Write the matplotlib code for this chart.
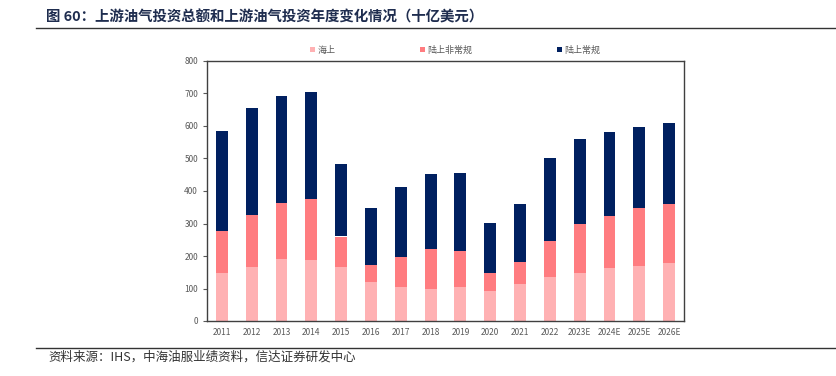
import numpy as np
import matplotlib.pyplot as plt
from matplotlib.lines import Line2D

plt.rcParams['font.family'] = ['Noto Sans CJK SC', 'DejaVu Sans']

# Data (十亿美元)
years = ['2011', '2012', '2013', '2014', '2015', '2016', '2017', '2018',
         '2019', '2020', '2021', '2022', '2023E', '2024E', '2025E', '2026E']
offshore = [149, 167, 192, 187, 165, 119, 106, 100, 104, 92, 114, 136, 149, 163, 170, 179]
onshore_unconv_top = [278, 326, 362, 376, 260, 172, 197, 221, 215, 149, 183, 245, 297, 324, 348, 361]
total = [585, 655, 691, 704, 484, 349, 413, 452, 454, 302, 359, 501, 560, 583, 597, 610]

offshore = np.array(offshore)
unconv = np.array(onshore_unconv_top) - offshore
conv = np.array(total) - np.array(onshore_unconv_top)

c_off = '#FFB1B3'
c_unconv = '#FF7C80'
c_conv = '#002060'

fig = plt.figure(figsize=(8.37, 3.76), dpi=100)
ax = fig.add_axes([207 / 837, 1 - 321 / 376, 477 / 837, 260 / 376])

x = np.arange(len(years))
w = 0.4
ax.bar(x, offshore, w, color=c_off, label='海上')
ax.bar(x, unconv, w, bottom=offshore, color=c_unconv, label='陆上非常规')
ax.bar(x, conv, w, bottom=offshore + unconv, color=c_conv, label='陆上常规')

ax.set_xlim(-0.5, len(years) - 0.5)
ax.set_ylim(0, 800)
ax.set_yticks(np.arange(0, 801, 100))
ax.set_xticks(x)
ax.set_xticklabels(years)
ax.tick_params(axis='both', labelsize=6, colors='#595959', length=3, width=0.8)
ax.tick_params(axis='x', length=0, pad=5)
for s in ax.spines.values():
    s.set_color('#404040')
    s.set_linewidth(1.0)

ax.legend(loc='lower center', bbox_to_anchor=(0.52, 1.0), ncol=3, frameon=False,
          fontsize=6.5, handlelength=0.6, handleheight=0.6, handletextpad=0.2,
          columnspacing=9.4, labelcolor='#595959', borderaxespad=0.3)

# title and source
fig.text(46 / 837, 1 - 17.5 / 376, '图 60：上游油气投资总额和上游油气投资年度变化情况（十亿美元）',
         fontsize=10.4, fontweight='bold', color='#1F2D4F', va='center', ha='left')
fig.add_artist(Line2D([36 / 837, 1], [1 - 28.3 / 376] * 2, color='#333333', lw=1.0))
fig.add_artist(Line2D([36 / 837, 1], [1 - 347.7 / 376] * 2, color='#333333', lw=1.0))
fig.text(48 / 837, 1 - 357 / 376, '资料来源：IHS，中海油服业绩资料，信达证券研发中心',
         fontsize=9, style='italic', color='#333333', va='center', ha='left')

fig.savefig('out.png', dpi=100)
